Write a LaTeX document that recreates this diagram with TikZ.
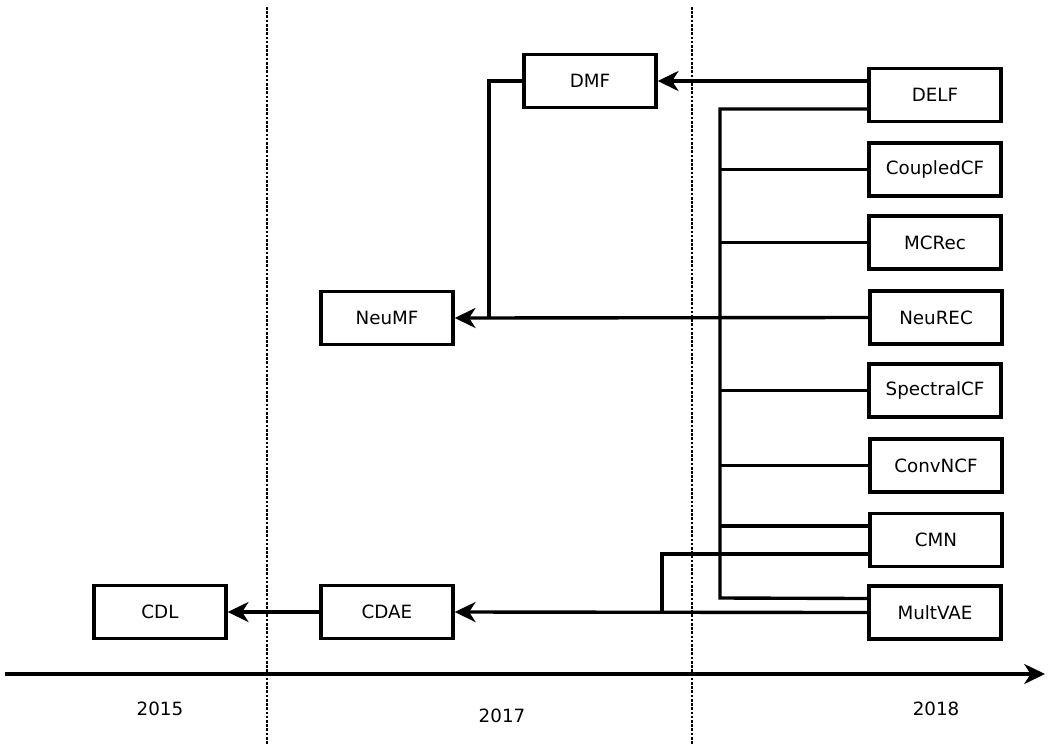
\documentclass[tikz,border=0pt]{standalone}
\usepackage{fontspec}
\setmainfont{DejaVu Sans}
\usetikzlibrary{arrows.meta,calc}

\tikzset{
  box/.style={draw, line width=2.4pt, minimum width=3.3cm, minimum height=1.33cm,
    inner sep=0pt, font=\fontsize{13}{15.6}\selectfont},
  link/.style={line width=2.4pt},
  arr/.style={line width=2.4pt, -{Stealth[length=0.52cm, width=0.5cm, inset=0.16cm]}},
  sep/.style={line width=1.9pt, dash pattern=on 1.9pt off 1.1pt},
  year/.style={font=\fontsize{13}{15.6}\selectfont}
}

\begin{document}
\begin{tikzpicture}[x=0.025cm, y=-0.025cm]
        \useasboundingbox (0,0) rectangle (1049,745);

        % year separators
        \draw [sep] (267,7) -- (267,745);
        \draw [sep] (692,7) -- (692,745);

        % models
        \node [box] (DMF) at (590,81) {DMF};
        \node [box] (NeuMF) at (387,318) {NeuMF};
        \node [box] (CDAE) at (387,612) {CDAE};
        \node [box] (CDL) at (160,612) {CDL};

        \node [box] (DELF) at (935,95) {DELF};
        \node [box] (CoupledCF) at (935,169.5) {CoupledCF};
        \node [box] (MCRec) at (935,242.5) {MCRec};
        \node [box] (NeuREC) at (936,317.5) {NeuREC};
        \node [box] (SpectralCF) at (935,390.5) {SpectralCF};
        \node [box] (ConvNCF) at (936,465.5) {ConvNCF};
        \node [box] (CMN) at (936,540) {CMN};
        \node [box] (MultVAE) at (935,612.5) {MultVAE};

        % junction points
        \coordinate (jA) at (720,109);
        \coordinate (jB) at (720,598);
        \coordinate (jN) at (489,81);
        \coordinate (jC) at (662,554);
        \coordinate (delfB) at ($(DELF.west)+(0,14)$);
        \coordinate (cmnA) at ($(CMN.west)+(0,-14)$);
        \coordinate (cmnB) at ($(CMN.west)+(0,14)$);
        \coordinate (vaeA) at ($(MultVAE.west)+(0,-14)$);

        % 2018 trunk
        \draw [link] (delfB) -- (jA) -- (jB) -- (vaeA);
        \draw [link] (CoupledCF.west) -- (CoupledCF.west -| jA);
        \draw [link] (MCRec.west) -- (MCRec.west -| jA);
        \draw [link] (SpectralCF.west) -- (SpectralCF.west -| jA);
        \draw [link] (ConvNCF.west) -- (ConvNCF.west -| jA);
        \draw [link] (cmnA) -- (cmnA -| jA);

        % arrows
        \draw [arr] (DELF.west |- DMF.east) -- (DMF.east);
        \draw [arr] (NeuREC.west) -- (NeuMF.east);
        \draw [link] (DMF.west) -- (jN) -- (jN |- NeuMF.east);
        \draw [arr] (MultVAE.west) -- (CDAE.east);
        \draw [link] (cmnB) -- (jC) -- (jC |- CDAE.east);
        \draw [arr] (CDAE.west) -- (CDL.east);

        % time axis
        \coordinate (tStart) at (5,674);
        \coordinate (tEnd) at (1045,674);
        \draw [arr] (tStart) -- (tEnd);
        \node [year] (y2015) at (160,709) {2015};
        \node [year] (y2017) at (502,716) {2017};
        \node [year] (y2018) at (936,709) {2018};
    \end{tikzpicture}
\end{document}
